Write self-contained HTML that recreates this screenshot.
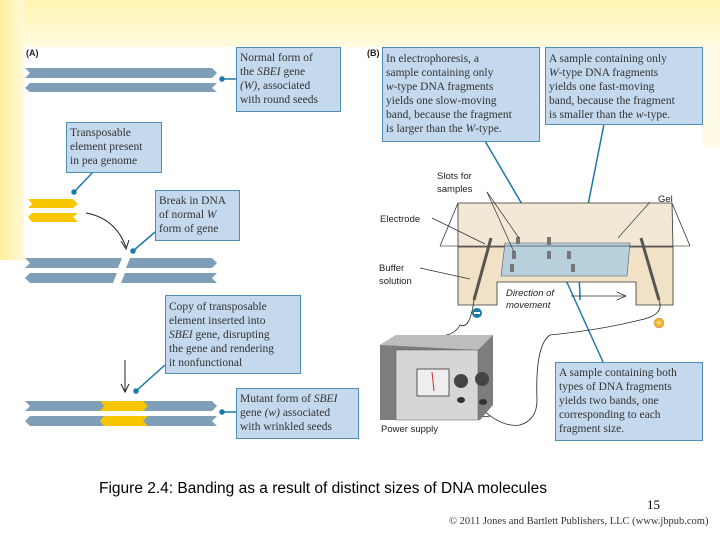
<!DOCTYPE html>
<html><head><style>
body{margin:0;width:720px;height:540px;overflow:hidden;background:#fff;font-family:"Liberation Sans",sans-serif}
</style></head><body>
<svg width="720" height="540" xmlns="http://www.w3.org/2000/svg" style="position:absolute;left:0;top:0">
<defs>
<linearGradient id="gt" x1="0" y1="0" x2="0" y2="1"><stop offset="0" stop-color="#fff3b0"/><stop offset="1" stop-color="#fffbe0"/></linearGradient>
<linearGradient id="gl" x1="0" y1="0" x2="1" y2="0"><stop offset="0" stop-color="#ffefa0"/><stop offset="1" stop-color="#fff9d8"/></linearGradient>
</defs>
<rect x="0" y="0" width="720" height="47" fill="url(#gt)"/>
<rect x="0" y="0" width="24" height="260" fill="url(#gl)"/>
<rect x="703" y="47" width="17" height="100" fill="#fffbe6"/>
<rect x="24" y="47" width="679" height="393" fill="#fff"/>
<g font-family="Liberation Sans" font-weight="bold" font-size="9" fill="#222"><text x="26" y="56">(A)</text><text x="367" y="56">(B)</text></g>

<!-- strands -->
<g fill="#7f9fb8">
<polygon points="25,68 212,68 217,73 212,78 25,78 30,73"/>
<polygon points="30,83 217,83 212,88 217,92 30,92 25,88"/>
<polygon points="25,258 122,258 118,268 25,268 30,263"/>
<polygon points="130,258 212,258 217,263 212,268 126,268"/>
<polygon points="30,273 117,273 113,283 30,283 25,278"/>
<polygon points="125,273 217,273 212,278 217,283 121,283"/>
<polygon points="25,401 212,401 217,406 212,411 25,411 30,406"/>
<polygon points="30,416 217,416 212,421 217,426 30,426 25,421"/>
</g>
<g fill="#f7c600">
<polygon points="28,199 73,199 78,204 73,208 28,208 32,204"/>
<polygon points="32,213 78,213 73,217 78,222 32,222 28,217"/>
<polygon points="100,401 143,401 148,406 143,411 100,411 104,406"/>
<polygon points="104,416 148,416 143,421 148,426 104,426 100,421"/>
</g>
<path d="M86,213 Q115,218 126,247" fill="none" stroke="#222" stroke-width="1"/>
<path d="M121,241 L126,249 L129,240" fill="none" stroke="#222"/>
<line x1="125" y1="360" x2="125" y2="391" stroke="#222"/>
<path d="M121,384 L125,392 L129,384" fill="none" stroke="#222"/>

<!-- callout lines -->
<g stroke="#1a7aa8" stroke-width="1.5" fill="#1a7aa8">
<line x1="222" y1="79" x2="236" y2="79"/><circle cx="222" cy="79" r="2"/>
<line x1="93" y1="172" x2="74" y2="192"/><circle cx="74" cy="192" r="2"/>
<line x1="155" y1="232" x2="133" y2="251"/><circle cx="133" cy="251" r="2"/>
<line x1="165" y1="365" x2="136" y2="391"/><circle cx="136" cy="391" r="2"/>
<line x1="222" y1="412" x2="236" y2="412"/><circle cx="222" cy="412" r="2"/>
<line x1="485" y1="141" x2="543" y2="240"/><circle cx="543" cy="240" r="2"/>
<line x1="604" y1="124" x2="576" y2="266"/><circle cx="576" cy="266" r="2"/>
<line x1="603" y1="362" x2="555" y2="256"/><circle cx="555" cy="256" r="2"/>
<path d="M580,300 Q580,255 565,256" fill="none"/><circle cx="565" cy="256" r="2"/>
</g>

<!-- boxes -->
<g fill="#c5d9ee" stroke="#4f8db5" stroke-width="1">
<rect x="236.5" y="47.5" width="104" height="64"/>
<rect x="66.5" y="122.5" width="95" height="50"/>
<rect x="155.5" y="190.5" width="84" height="50"/>
<rect x="165.5" y="295.5" width="135" height="78"/>
<rect x="236.5" y="388.5" width="122" height="50"/>
<rect x="382.5" y="47.5" width="157" height="94"/>
<rect x="545.5" y="47.5" width="157" height="77"/>
<rect x="555.5" y="362.5" width="147" height="78"/>
</g>
<g font-family="Liberation Serif" font-size="11.5" fill="#333">
<text x="240" y="61">Normal form of</text><text x="240" y="75">the <tspan font-style="italic">SBEI</tspan> gene</text><text x="240" y="89"><tspan font-style="italic">(W)</tspan>, associated</text><text x="240" y="103">with round seeds</text>
<text x="70" y="136">Transposable</text><text x="70" y="150">element present</text><text x="70" y="164">in pea genome</text>
<text x="159" y="204">Break in DNA</text><text x="159" y="218">of normal <tspan font-style="italic">W</tspan></text><text x="159" y="232">form of gene</text>
<text x="169" y="310">Copy of transposable</text><text x="169" y="324">element inserted into</text><text x="169" y="338"><tspan font-style="italic">SBEI</tspan> gene, disrupting</text><text x="169" y="352">the gene and rendering</text><text x="169" y="366">it nonfunctional</text>
<text x="240" y="402">Mutant form of <tspan font-style="italic">SBEI</tspan></text><text x="240" y="416">gene <tspan font-style="italic">(w)</tspan> associated</text><text x="240" y="430">with wrinkled seeds</text>
<text x="386" y="62">In electrophoresis, a</text><text x="386" y="76">sample containing only</text><text x="386" y="90"><tspan font-style="italic">w</tspan>-type DNA fragments</text><text x="386" y="104">yields one slow-moving</text><text x="386" y="118">band, because the fragment</text><text x="386" y="132">is larger than the <tspan font-style="italic">W</tspan>-type.</text>
<text x="549" y="62">A sample containing only</text><text x="549" y="76"><tspan font-style="italic">W</tspan>-type DNA fragments</text><text x="549" y="90">yields one fast-moving</text><text x="549" y="104">band, because the fragment</text><text x="549" y="118">is smaller than the <tspan font-style="italic">w</tspan>-type.</text>
<text x="559" y="376">A sample containing both</text><text x="559" y="390">types of DNA fragments</text><text x="559" y="404">yields two bands, one</text><text x="559" y="418">corresponding to each</text><text x="559" y="432">fragment size.</text>
</g>

<!-- gel apparatus -->
<polygon points="458,203 672,203 673,247 458,247" fill="#f3e8d6" stroke="#333" stroke-width="0.8"/>
<polygon points="458,247 673,247 673,305 636,305 636,282 497,282 497,305 458,305" fill="#f1e1c6" stroke="#333" stroke-width="0.8"/>
<line x1="458" y1="203" x2="440" y2="246" stroke="#333" stroke-width="0.8"/>
<line x1="672" y1="203" x2="690" y2="246" stroke="#333" stroke-width="0.8"/>
<polygon points="505,243 630,243 627,276 501,276" fill="#b8cfdc" stroke="#556" stroke-width="0.6"/>
<line x1="440" y1="246" x2="690" y2="246" stroke="#555" stroke-width="0.8"/>
<g stroke="#555" stroke-width="3"><line x1="491" y1="238" x2="474" y2="300"/><line x1="641" y1="238" x2="659" y2="300"/></g>
<g fill="#777"><rect x="516" y="237" width="4" height="7"/><rect x="547" y="237" width="4" height="8"/><rect x="512" y="251" width="4" height="8"/><rect x="547" y="251" width="4" height="8"/><rect x="567" y="251" width="4" height="8"/><rect x="510" y="264" width="4" height="8"/><rect x="571" y="264" width="4" height="8"/></g>
<g stroke="#333" stroke-width="0.7" fill="none">
<line x1="487" y1="192" x2="519" y2="238"/><line x1="487" y1="192" x2="514" y2="252"/>
<line x1="432" y1="218" x2="485" y2="244"/><line x1="420" y1="268" x2="470" y2="279"/>
<line x1="650" y1="202" x2="618" y2="238"/>
<line x1="571" y1="296" x2="625" y2="296"/><path d="M617,292 L626,296 L617,300"/>
</g>
<g font-size="9.5" fill="#222"><text x="437" y="179">Slots for</text><text x="437" y="192">samples</text><text x="380" y="222">Electrode</text><text x="658" y="202">Gel</text><text x="379" y="271">Buffer</text><text x="379" y="284">solution</text><text x="506" y="296" font-style="italic">Direction of</text><text x="506" y="308" font-style="italic">movement</text><text x="381" y="432">Power supply</text></g>
<circle cx="477" cy="313" r="5" fill="#1a7aa8"/><rect x="474" y="312" width="6" height="2" fill="#fff"/>
<circle cx="659" cy="323" r="5" fill="#f0b428" stroke="#b88" stroke-width="0.5"/><text x="659" y="326" font-size="9" text-anchor="middle" fill="#fff">+</text>
<g stroke="#222" fill="none" stroke-width="0.8">
<path d="M474,300 Q470,330 460,325 Q455,335 440,336"/>
<path d="M659,300 Q665,315 640,320 Q600,330 550,335 Q535,345 537,400 Q537,420 520,425 Q500,428 478,405"/>
<path d="M460,405 Q470,420 490,416"/>
</g>
<!-- power supply -->
<polygon points="380,345 396,335 493,335 493,405 480,420 380,420" fill="#7d7d7d"/>
<polygon points="380,345 396,335 493,335 478,350" fill="#bdbdbd"/>
<rect x="396" y="350" width="82" height="70" fill="#d6d6d6" stroke="#555" stroke-width="0.5"/>
<rect x="417" y="369" width="32" height="27" fill="#eee" stroke="#333" stroke-width="0.8"/>
<line x1="432" y1="372" x2="434" y2="391" stroke="#c33"/>
<circle cx="461" cy="381" r="7" fill="#444"/><circle cx="482" cy="379" r="7" fill="#444"/>
<ellipse cx="461" cy="400" rx="4" ry="3" fill="#333"/><ellipse cx="483" cy="402" rx="4" ry="3" fill="#333"/>
</svg>
<div style="position:absolute;left:99px;top:480px;font-size:15.5px;color:#000;white-space:nowrap">Figure 2.4: Banding as a result of distinct sizes of DNA molecules</div>
<div style="position:absolute;left:647px;top:497px;font-family:'Liberation Serif',serif;font-size:13px">15</div>
<div style="position:absolute;left:449px;top:516px;font-family:'Liberation Serif',serif;font-size:10.5px;color:#333;white-space:nowrap">© 2011 Jones and Bartlett Publishers, LLC (www.jbpub.com)</div>
</body></html>
